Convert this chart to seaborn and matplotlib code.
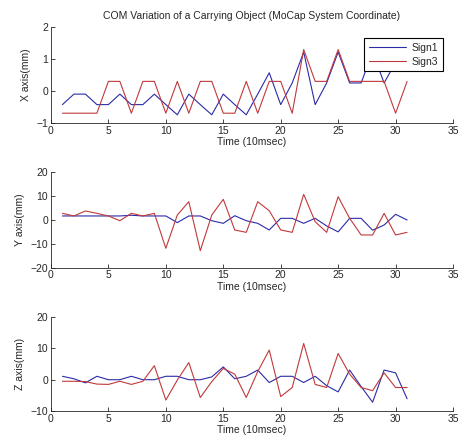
import numpy as np
import pandas as pd
import matplotlib
matplotlib.use("Agg")
import matplotlib.pyplot as plt
import seaborn as sns

time = list(range(1, 32))

x_sign1 = [-0.43, -0.1, -0.1, -0.43, -0.43, -0.1, -0.43, -0.43, -0.1, -0.43,
           -0.75, -0.1, -0.43, -0.75, -0.1, -0.43, -0.75, -0.1, 0.57, -0.43,
           0.25, 1.22, -0.43, 0.25, 1.22, 0.25, 0.25, 1.22, 0.25, 0.9, 0.9]
x_sign3 = [-0.7, -0.7, -0.7, -0.7, 0.3, 0.3, -0.7, 0.3, 0.3, -0.7,
           0.3, -0.7, 0.3, 0.3, -0.7, -0.7, 0.3, -0.7, 0.3, 0.3,
           -0.7, 1.3, 0.3, 0.3, 1.3, 0.3, 0.3, 0.3, 0.3, -0.7, 0.3]

y_sign1 = [1.7, 1.7, 1.7, 1.7, 1.7, 1.7, 2.0, 1.7, 1.7, 1.7,
           -1.1, 1.7, 1.7, -0.3, -1.4, 1.8, -0.3, -1.4, -4.2, 0.7,
           0.7, -1.4, 0.7, -2.5, -5.0, 0.7, 0.7, -4.3, -2.1, 2.4, 0.0]
y_sign3 = [2.8, 1.7, 3.8, 2.8, 1.7, -0.3, 2.8, 1.7, 2.8, -11.9,
           2.1, 7.7, -12.9, 2.1, 8.7, -4.2, -5.2, 7.7, 3.9, -4.2,
           -5.2, 10.8, -0.7, -5.2, 9.8, 0.7, -6.3, -6.3, 2.8, -6.3, -5.2]

z_sign1 = [1.1, 0.3, -1.0, 1.1, 0.0, 0.0, 1.1, 0.0, 0.0, 1.1,
           1.1, 0.0, 0.0, 0.9, 4.1, 0.3, 1.1, 3.1, -0.9, 1.1,
           1.1, -0.9, 1.1, -1.9, -3.9, 3.1, -2.2, -7.2, 3.1, 2.2, -6.1]
z_sign3 = [-0.5, -0.5, -0.6, -1.4, -1.5, -0.5, -1.5, -0.5, 4.5, -6.5,
           -0.1, 5.5, -5.7, -0.6, 3.6, 1.8, -5.7, 2.6, 9.5, -5.4,
           -2.5, 11.6, -1.5, -2.5, 8.4, 1.8, -2.5, -3.5, 2.2, -2.5, -2.5]

series_names = ["Sign1", "Sign3"]
ylabels = ["X axis(mm)", "Y axis(mm)", "Z axis(mm)"]
ylims = [(-1, 2), (-20, 20), (-10, 20)]
yticks = [[-1, 0, 1, 2], [-20, -10, 0, 10, 20], [-10, 0, 10, 20]]
xticks = [0, 5, 10, 15, 20, 25, 30, 35]
title = "COM Variation of a Carrying Object (MoCap System Coordinate)"

sns.set_style("ticks")
plt.rcParams["font.family"] = ["Liberation Sans", "DejaVu Sans"]
plt.rcParams["xtick.direction"] = "in"
plt.rcParams["ytick.direction"] = "in"

fig = plt.figure(figsize=(4.59, 4.4), dpi=100)
positions = [
    [0.111, 0.721, 0.876, 0.217],
    [0.111, 0.392, 0.876, 0.216],
    [0.111, 0.066, 0.876, 0.213],
]
palette = {"Sign1": "#2b2ba8", "Sign3": "#c0393b"}
data = [(x_sign1, x_sign3), (y_sign1, y_sign3), (z_sign1, z_sign3)]

for i, (s1, s3) in enumerate(data):
    ax = fig.add_axes(positions[i])
    df = pd.DataFrame({
        "Time": time * 2,
        "Value": list(s1) + list(s3),
        "Series": [series_names[0]] * len(time) + [series_names[1]] * len(time),
    })
    sns.lineplot(data=df, x="Time", y="Value", hue="Series", palette=palette,
                 linewidth=0.8, ax=ax, legend=(i == 0), sort=False)
    ax.set_xlim(0, 35)
    ax.set_ylim(*ylims[i])
    ax.set_xticks(xticks)
    ax.set_yticks(yticks[i])
    ax.tick_params(labelsize=7.5, length=3, width=0.6, pad=2)
    for sp in ["top", "right"]:
        ax.spines[sp].set_visible(False)
    for sp in ["left", "bottom"]:
        ax.spines[sp].set_linewidth(0.6)
    ax.set_xlabel("Time (10msec)", fontsize=7.5, labelpad=1)
    ax.set_ylabel(ylabels[i], fontsize=7.5, labelpad=4)
    if i == 0:
        ax.set_title(title, fontsize=7.5, pad=6)
        leg = ax.legend(loc="upper right", bbox_to_anchor=(0.988, 0.94),
                        fontsize=7.5, frameon=True, fancybox=False,
                        handlelength=3.6, borderpad=0.45, labelspacing=0.35,
                        handletextpad=0.5)
        leg.get_frame().set_edgecolor("black")
        leg.get_frame().set_linewidth(0.8)
        leg.get_frame().set_alpha(1)
        for h in leg.get_lines():
            h.set_linewidth(0.8)

fig.savefig("out.png", dpi=100)
